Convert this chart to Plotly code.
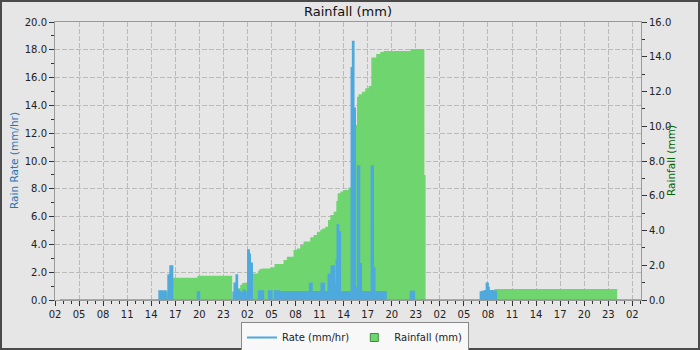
import plotly.graph_objects as go

# ---------------- data ----------------
rate_time = [
    "2024-06-01 02:37", "2024-06-01 14:59", "2024-06-01 15:51", "2024-06-01 16:06",
    "2024-06-01 16:21", "2024-06-01 16:40", "2024-06-01 19:46", "2024-06-01 20:01",
    "2024-06-02 00:13", "2024-06-02 00:21", "2024-06-02 00:36", "2024-06-02 00:45",
    "2024-06-02 01:00", "2024-06-02 01:30", "2024-06-02 01:43", "2024-06-02 02:03",
    "2024-06-02 02:13", "2024-06-02 02:21", "2024-06-02 02:36", "2024-06-02 03:23",
    "2024-06-02 04:00", "2024-06-02 04:38", "2024-06-02 05:03", "2024-06-02 05:23",
    "2024-06-02 06:00", "2024-06-02 06:05", "2024-06-02 07:10", "2024-06-02 07:20",
    "2024-06-02 08:02", "2024-06-02 08:12", "2024-06-02 08:55", "2024-06-02 09:05",
    "2024-06-02 09:45", "2024-06-02 10:03", "2024-06-02 10:25", "2024-06-02 10:35",
    "2024-06-02 11:12", "2024-06-02 11:35", "2024-06-02 11:55", "2024-06-02 12:05",
    "2024-06-02 12:27", "2024-06-02 12:50", "2024-06-02 12:57", "2024-06-02 13:05",
    "2024-06-02 13:12", "2024-06-02 13:22", "2024-06-02 13:35", "2024-06-02 13:58",
    "2024-06-02 14:07", "2024-06-02 14:28", "2024-06-02 14:37", "2024-06-02 14:57",
    "2024-06-02 15:07", "2024-06-02 15:16", "2024-06-02 15:27", "2024-06-02 15:40",
    "2024-06-02 15:44", "2024-06-02 15:59", "2024-06-02 16:12", "2024-06-02 16:40",
    "2024-06-02 16:48", "2024-06-02 17:27", "2024-06-02 17:42", "2024-06-02 17:53",
    "2024-06-02 18:32", "2024-06-02 18:40", "2024-06-02 19:17", "2024-06-02 22:19",
    "2024-06-02 22:49",
    "2024-06-03 07:03", "2024-06-03 07:16", "2024-06-03 07:33", "2024-06-03 07:48",
    "2024-06-03 08:01", "2024-06-03 08:08", "2024-06-03 08:43", "2024-06-03 09:03",
    "2024-06-04 03:05",
]
rate_mmhr = [
    0, 0.65, 0, 1.8,
    2.45, 0, 0.6, 0,
    0.55, 1.2, 1.8, 0.7,
    0.55, 0.7, 0.55, 3.6,
    3.3, 2.65, 0, 0.65,
    0, 0.65, 0, 0.65,
    0, 0.6, 0, 0.6,
    0, 0.6, 0, 0.6,
    1.2, 0.6, 0, 0.6,
    1.2, 0.6, 0, 1.85,
    2.45, 1.2, 0.6, 2.9,
    5.4, 4.9, 0.6, 0,
    0.6, 0, 0.6, 16.7,
    18.6, 13.8, 0.9, 0.6,
    9.64, 2.6, 0.6, 0,
    0.6, 9.64, 2.3, 0.6,
    0, 0.6, 0, 0.62,
    0,
    0.58, 0.62, 0.67, 1.2,
    0.9, 0.67, 0.62, 0,
    0,
]

rain_time = [
    "2024-06-01 15:06", "2024-06-01 15:44", "2024-06-01 16:06", "2024-06-01 16:21",
    "2024-06-01 16:39", "2024-06-01 19:46", "2024-06-02 00:06",
    "2024-06-02 00:24", "2024-06-02 00:36", "2024-06-02 00:47", "2024-06-02 01:06",
    "2024-06-02 01:18", "2024-06-02 01:30", "2024-06-02 02:03", "2024-06-02 02:21",
    "2024-06-02 02:36", "2024-06-02 03:18", "2024-06-02 03:30", "2024-06-02 03:48",
    "2024-06-02 04:50", "2024-06-02 05:23", "2024-06-02 06:30", "2024-06-02 06:55",
    "2024-06-02 07:45", "2024-06-02 08:10", "2024-06-02 08:35", "2024-06-02 09:00",
    "2024-06-02 09:50", "2024-06-02 10:15", "2024-06-02 10:40", "2024-06-02 11:05",
    "2024-06-02 11:20", "2024-06-02 11:42", "2024-06-02 12:03", "2024-06-02 12:20",
    "2024-06-02 12:45", "2024-06-02 13:05", "2024-06-02 13:15", "2024-06-02 13:35",
    "2024-06-02 13:57", "2024-06-02 14:35", "2024-06-02 14:57", "2024-06-02 15:12",
    "2024-06-02 15:27", "2024-06-02 15:40", "2024-06-02 15:52", "2024-06-02 16:17",
    "2024-06-02 16:42", "2024-06-02 17:07", "2024-06-02 17:27", "2024-06-02 18:04",
    "2024-06-02 18:34", "2024-06-02 18:59", "2024-06-02 22:19", "2024-06-03 00:04",
    "2024-06-03 00:13",
    "2024-06-03 07:48", "2024-06-03 08:18", "2024-06-03 08:48", "2024-06-04 00:07",
]
rain_mm = [
    0.38, 0.48, 0.8, 1.1,
    1.28, 1.40, 0,
    0.2, 0.45, 0.67, 0.86,
    0.96, 0.99, 1.2, 1.4,
    1.53, 1.69, 1.78, 1.82,
    1.88, 2.07, 2.3, 2.49,
    2.88, 2.97, 3.17, 3.36,
    3.61, 3.74, 3.93, 4.05,
    4.12, 4.22, 4.6, 4.89,
    5.08, 5.7, 6.14, 6.24,
    6.33, 6.48, 7.5, 9.0,
    10.07, 11.7, 11.84, 11.99,
    12.18, 12.32, 13.95, 14.16,
    14.27, 14.33, 14.45, 7.19,
    0,
    0.35, 0.5, 0.63, 0,
]

x_start = "2024-06-01 02:00"
x_end = "2024-06-04 03:05"
rate_range = [0, 20]
rain_range = [0, 16]

BLUE = "#4ea9dc"
GREEN = "#6fd66f"
FONT = "DejaVu Sans"
GRID = "#bababa"
DASH = "5px,2px"

fig = go.Figure()

# Rainfall (cumulative) -> main y axis (right side), drawn below
fig.add_trace(go.Scatter(
    x=rain_time, y=rain_mm, mode="lines",
    line=dict(shape="hv", width=0, color=GREEN),
    fill="tozeroy", fillcolor=GREEN, yaxis="y",
    showlegend=False, hoverinfo="skip",
))
# Rate -> overlaying y2 (left side), drawn on top
fig.add_trace(go.Scatter(
    x=rate_time, y=rate_mmhr, mode="lines",
    line=dict(shape="hv", width=1.5, color=BLUE),
    fill="tozeroy", fillcolor=BLUE, yaxis="y2",
    showlegend=False, hoverinfo="skip",
))
# legend entries
fig.add_trace(go.Scatter(
    x=[None], y=[None], mode="lines", name="Rate (mm/hr)",
    line=dict(color=BLUE, width=2), yaxis="y2",
))
fig.add_trace(go.Scatter(
    x=[None], y=[None], mode="markers", name="Rainfall (mm)",
    marker=dict(symbol="square", size=8, color=GREEN, line=dict(color="#3c8f3c", width=1)),
    yaxis="y",
))

W, H = 700, 350
ML, MR, MT, MB = 55, 59, 22, 50
PW, PH = W - ML - MR, H - MT - MB

tickfont = dict(family=FONT, size=10, color="#222")

fig.update_layout(
    width=W, height=H,
    margin=dict(l=ML, r=MR, t=MT, b=MB, autoexpand=False),
    paper_bgcolor="#e6e6e6", plot_bgcolor="#e6e6e6",
    font=dict(family=FONT, size=10, color="#222"),
    title=dict(text="Rainfall (mm)", x=(ML + PW / 2) / W, xref="container", xanchor="center",
               y=1 - 11 / H, yref="container", yanchor="middle",
               font=dict(family=FONT, size=13, color="#111")),
    xaxis=dict(
        type="date", range=[x_start, x_end],
        tickformat="%H", tick0=x_start, dtick=3 * 3600000,
        ticks="outside", ticklen=5, tickcolor="#333", tickwidth=1,
        showline=True, linecolor="#999", linewidth=1, mirror=True,
        showgrid=True, gridcolor=GRID, griddash=DASH, gridwidth=1,
        zeroline=False, tickfont=tickfont,
        minor=dict(dtick=3600000, ticks="outside", ticklen=3, tickcolor="#333", showgrid=False),
    ),
    yaxis=dict(
        side="right", range=rain_range, dtick=2, tickformat=".1f",
        ticks="outside", ticklen=5, tickcolor="#333",
        showline=True, linecolor="#999", linewidth=1,
        showgrid=False, zeroline=False, tickfont=tickfont,
        minor=dict(dtick=1, ticks="outside", ticklen=3, tickcolor="#333", showgrid=False),
    ),
    yaxis2=dict(
        overlaying="y", side="left", range=rate_range, dtick=2, tickformat=".1f",
        ticks="outside", ticklen=5, tickcolor="#333",
        showline=True, linecolor="#999", linewidth=1,
        showgrid=True, gridcolor=GRID, griddash=DASH, gridwidth=1,
        zeroline=False, tickfont=tickfont,
        minor=dict(dtick=1, ticks="outside", ticklen=3, tickcolor="#333", showgrid=False),
    ),
    legend=dict(
        orientation="h", x=(355 - ML) / PW, xanchor="center",
        y=-(322 - (MT + PH)) / PH, yanchor="top",
        bgcolor="#f8f8f8", bordercolor="#888", borderwidth=1,
        font=dict(family=FONT, size=10, color="#222"),
    ),
    annotations=[
        dict(text="Rain Rate (mm/hr)", xref="paper", yref="paper", x=0, y=0.5,
             xshift=-41, textangle=-90, showarrow=False, xanchor="center", yanchor="middle",
             font=dict(family=FONT, size=10.5, color="#1f77b4")),
        dict(text="Rainfall (mm)", xref="paper", yref="paper", x=1, y=0.5,
             xshift=30, textangle=-90, showarrow=False, xanchor="center", yanchor="middle",
             font=dict(family=FONT, size=10.5, color="#006400")),
    ],
    shapes=[
        dict(type="rect", xref="paper", yref="paper",
             x0=(1 - ML) / PW, x1=(W - 1 - ML) / PW,
             y0=(MT + PH - (H - 1)) / PH, y1=(MT + PH - 1) / PH,
             line=dict(color="#4a4a4a", width=2), fillcolor="rgba(0,0,0,0)", layer="above"),
    ],
)

fig.write_html("out.html")
